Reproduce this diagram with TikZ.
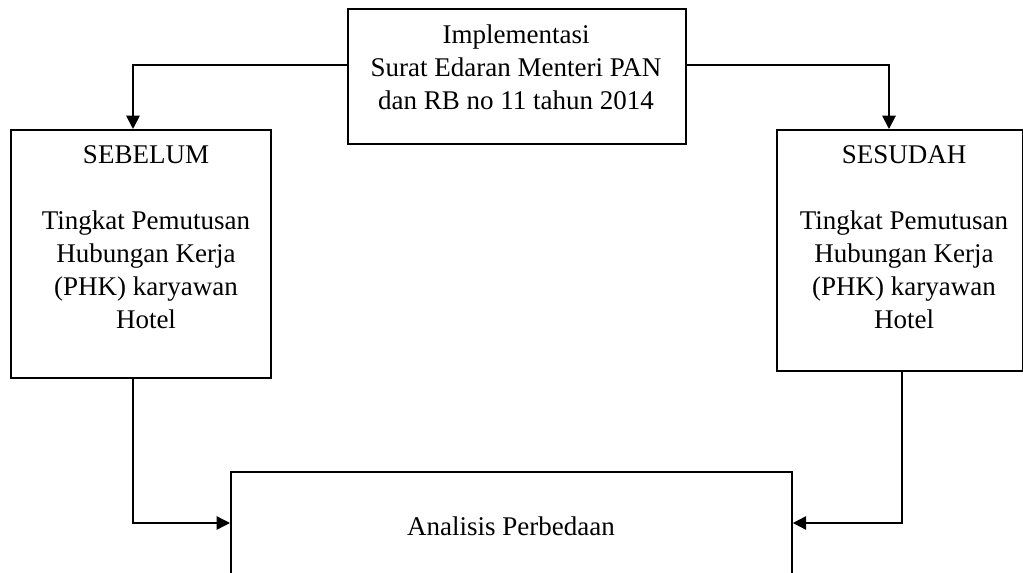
\documentclass[tikz,border=0pt]{standalone}
\usepackage{fontspec}
\setmainfont{Liberation Serif}
\usetikzlibrary{arrows.meta}
\begin{document}
\begin{tikzpicture}[x=0.75pt,y=-0.75pt,
  box/.style={draw, line width=1.4pt, rectangle, inner sep=0pt, anchor=north west},
  txt/.style={align=center, inner sep=0pt, font=\fontsize{20.25}{24.75}\selectfont},
  conn/.style={line width=1.4pt},
  arr/.style={conn, -{Triangle[length=10pt,width=10pt]}}]
\useasboundingbox (0,0) rectangle (1023,573);
\clip (0,0) rectangle (1023,573);
% boxes
\node[box, minimum width=253.5pt, minimum height=101.25pt] (T) at (347,8) {};
\node[box, minimum width=195pt, minimum height=186pt] (L) at (10,129) {};
\node[box, minimum width=184.5pt, minimum height=180.75pt] (R) at (776,129) {};
\node[box, minimum width=420.75pt, minimum height=112.5pt] (B) at (230,471) {};
% texts
\node[txt, anchor=north] (Tt) at (516,25) {Implementasi\\Surat Edaran Menteri PAN\\dan RB no 11 tahun 2014};
\node[txt, anchor=north] (Lt) at (146,145) {SEBELUM\\[24.75pt]Tingkat Pemutusan\\Hubungan Kerja\\(PHK) karyawan\\Hotel};
\node[txt, anchor=north] (Rt) at (904,145) {SESUDAH\\[24.75pt]Tingkat Pemutusan\\Hubungan Kerja\\(PHK) karyawan\\Hotel};
\node[txt, anchor=base] (Bt) at (511,535) {Analisis Perbedaan};
% helper coordinates
\coordinate (lt) at (133,65);
\coordinate (rt) at (889,65);
\coordinate (lb) at (133,523);
\coordinate (rb) at (902,523);
% connectors
\draw[arr] (T.west |- lt) -| (L.north -| lt);
\draw[arr] (T.east |- rt) -| (R.north -| rt);
\draw[arr, line width=1pt] (L.south -| lb) |- (B.west |- lb);
\draw[arr] (R.south -| rb) |- (B.east |- rb);
\end{tikzpicture}
\end{document}
